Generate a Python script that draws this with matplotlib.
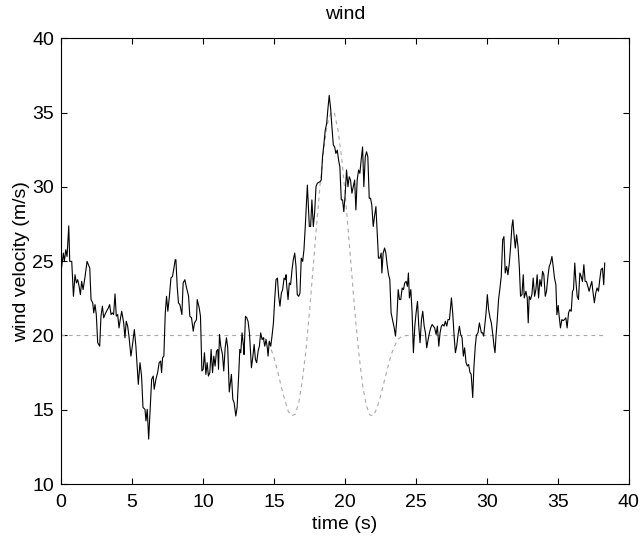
import matplotlib
matplotlib.use("Agg")
import matplotlib.pyplot as plt

plt.rcParams['font.family'] = ['Liberation Sans', 'DejaVu Sans']
plt.rcParams['font.size'] = 14

# turbulent wind speed (solid line)
wind_t = [
    0.00, 0.16, 0.23, 0.33, 0.42, 0.54, 0.61, 0.75, 0.87, 0.98, 1.08, 1.17, 1.27, 1.36, 1.45,
    1.55, 1.69, 1.83, 2.02, 2.11, 2.23, 2.30, 2.39, 2.48, 2.58, 2.72, 2.81, 2.91, 3.00, 3.14,
    3.33, 3.42, 3.52, 3.61, 3.70, 3.80, 3.89, 3.99, 4.08, 4.17, 4.27, 4.41, 4.50, 4.59, 4.69,
    4.78, 4.92, 5.02, 5.16, 5.27, 5.44, 5.56, 5.67, 5.77, 5.91, 5.98, 6.07, 6.17, 6.26, 6.38,
    6.49, 6.56, 6.68, 6.80, 6.91, 7.01, 7.08, 7.15, 7.24, 7.34, 7.43, 7.52, 7.62, 7.74, 7.85,
    7.95, 8.04, 8.09, 8.18, 8.27, 8.37, 8.51, 8.60, 8.72, 8.84, 8.93, 8.98, 9.07, 9.19, 9.31,
    9.40, 9.54, 9.59, 9.73, 9.82, 9.92, 10.01, 10.10, 10.20, 10.29, 10.38, 10.48, 10.57, 10.67,
    10.76, 10.85, 10.95, 11.04, 11.09, 11.16, 11.25, 11.37, 11.46, 11.56, 11.65, 11.74, 11.85,
    12.00, 12.10, 12.19, 12.31, 12.40, 12.52, 12.59, 12.66, 12.75, 12.85, 12.89, 12.99, 13.08,
    13.17, 13.27, 13.41, 13.50, 13.60, 13.69, 13.78, 13.88, 13.97, 14.06, 14.16, 14.25, 14.35,
    14.44, 14.53, 14.58, 14.67, 14.77, 14.86, 14.96, 15.05, 15.14, 15.24, 15.33, 15.42, 15.52,
    15.61, 15.71, 15.80, 15.85, 15.89, 15.99, 16.08, 16.17, 16.27, 16.36, 16.46, 16.55, 16.64,
    16.74, 16.83, 16.92, 17.02, 17.11, 17.21, 17.35, 17.49, 17.58, 17.67, 17.77, 17.86, 17.96,
    18.05, 18.24, 18.33, 18.42, 18.52, 18.61, 18.71, 18.80, 18.89, 18.99, 19.08, 19.18, 19.27,
    19.36, 19.46, 19.55, 19.64, 19.74, 19.83, 19.92, 20.02, 20.11, 20.21, 20.30, 20.39, 20.49,
    20.58, 20.68, 20.77, 20.86, 20.96, 21.05, 21.14, 21.24, 21.33, 21.43, 21.52, 21.61, 21.71,
    21.80, 21.89, 21.99, 22.08, 22.18, 22.27, 22.36, 22.46, 22.55, 22.60, 22.69, 22.79, 22.88,
    22.97, 23.07, 23.16, 23.25, 23.36, 23.47, 23.56, 23.65, 23.75, 23.84, 23.93, 24.03, 24.12,
    24.21, 24.31, 24.40, 24.47, 24.54, 24.64, 24.73, 24.82, 24.92, 25.01, 25.11, 25.20, 25.29,
    25.39, 25.48, 25.58, 25.67, 25.76, 25.86, 25.95, 26.04, 26.14, 26.23, 26.32, 26.42, 26.51,
    26.61, 26.70, 26.79, 26.89, 26.98, 27.07, 27.17, 27.26, 27.36, 27.45, 27.50, 27.59, 27.69,
    27.78, 27.87, 27.97, 28.06, 28.15, 28.25, 28.34, 28.43, 28.53, 28.62, 28.71, 28.81, 28.89,
    29.00, 29.08, 29.18, 29.26, 29.37, 29.47, 29.61, 29.70, 29.77, 29.84, 29.94, 30.03, 30.12,
    30.22, 30.31, 30.40, 30.50, 30.57, 30.64, 30.73, 30.82, 30.92, 31.01, 31.11, 31.20, 31.29,
    31.39, 31.48, 31.58, 31.67, 31.76, 31.83, 31.90, 32.00, 32.09, 32.19, 32.28, 32.37, 32.47,
    32.56, 32.63, 32.75, 32.84, 32.91, 32.98, 33.07, 33.17, 33.26, 33.36, 33.45, 33.54, 33.64,
    33.73, 33.83, 33.92, 34.01, 34.11, 34.20, 34.30, 34.39, 34.48, 34.58, 34.67, 34.76, 34.86,
    34.93, 35.02, 35.09, 35.18, 35.28, 35.37, 35.46, 35.56, 35.65, 35.75, 35.84, 35.94, 36.03,
    36.10, 36.19, 36.26, 36.36, 36.45, 36.55, 36.64, 36.73, 36.83, 36.92, 37.01, 37.11, 37.20,
    37.29, 37.39, 37.48, 37.57, 37.67, 37.76, 37.86, 37.95, 38.04, 38.14, 38.23, 38.30,
]
wind_v = [
    24.32, 25.55, 24.99, 25.77, 25.32, 27.38, 24.99, 24.99, 22.64, 24.09, 23.54, 23.76, 23.31, 22.75, 23.65,
    23.09, 23.98, 24.99, 24.54, 22.42, 22.19, 21.52, 22.08, 21.41, 19.51, 19.28, 21.30, 21.97, 21.19, 21.52,
    21.86, 22.08, 21.41, 21.52, 21.41, 22.80, 21.30, 21.41, 20.51, 21.07, 21.63, 20.85, 19.85, 20.96, 20.63,
    19.96, 18.61, 19.28, 20.40, 19.28, 16.71, 18.17, 17.27, 15.15, 15.03, 14.25, 15.03, 13.02, 14.81, 17.05,
    17.27, 16.38, 17.05, 17.50, 18.17, 18.28, 17.50, 18.50, 18.61, 21.52, 22.64, 21.63, 22.53, 23.87, 23.98,
    24.54, 25.10, 25.10, 23.31, 22.19, 22.08, 21.41, 23.54, 23.76, 23.20, 22.86, 22.64, 21.30, 21.19, 20.29,
    20.85, 21.07, 22.42, 21.86, 21.30, 17.61, 17.72, 18.84, 17.38, 18.17, 17.27, 17.50, 19.06, 17.50,
    18.61, 17.94, 18.95, 19.06, 17.72, 20.07, 19.28, 18.72, 17.61, 19.17, 19.85, 19.17, 16.20,
    17.38, 15.70, 15.48, 14.58, 15.15, 17.50, 19.06, 18.84, 20.18, 19.28, 18.72, 21.30, 21.19,
    20.96, 20.18, 17.83, 18.50, 19.40, 18.39, 18.17, 18.95, 19.28, 20.18, 19.73, 19.85, 19.28,
    19.73, 19.17, 18.61, 19.62, 19.28, 19.96, 20.85, 22.42, 23.76, 23.87, 22.64, 21.97, 22.86,
    23.09, 23.87, 23.76, 24.09, 23.42, 22.42, 23.54, 23.42, 24.43, 25.10, 25.55, 24.65, 22.75,
    22.64, 22.86, 25.21, 24.99, 25.77, 27.45, 30.13, 27.34, 27.34, 29.13, 27.34, 28.23, 30.02,
    30.25, 30.36, 30.47, 32.04, 32.93, 33.83, 34.27, 35.28, 36.17, 35.28, 34.05, 32.82, 32.70,
    32.26, 32.48, 31.81, 31.36, 29.13, 29.13, 28.34, 29.58, 31.14, 30.02, 30.69, 30.47, 29.58,
    30.02, 30.47, 28.46, 30.47, 31.14, 30.92, 31.81, 32.70, 30.02, 32.04, 32.37, 32.04, 29.24,
    29.24, 28.79, 27.34, 28.01, 28.68, 26.89, 25.21, 25.21, 25.55, 24.21, 25.55, 25.89, 25.55,
    24.77, 24.09, 23.76, 21.52, 21.00, 20.51, 19.96, 21.07, 23.09, 22.42, 22.42, 23.20, 23.09,
    23.54, 23.65, 23.31, 24.21, 22.53, 23.09, 21.52, 18.84, 20.63, 21.52, 22.30, 20.63, 19.51,
    21.07, 21.63, 20.63, 20.18, 19.17, 19.73, 20.18, 20.51, 20.74, 20.63, 20.51, 20.07, 20.63,
    19.28, 20.18, 20.63, 20.74, 20.63, 20.96, 20.63, 21.07, 21.07, 21.97, 22.53, 21.52, 19.96,
    18.84, 19.28, 20.07, 20.63, 20.07, 19.85, 18.61, 19.17, 18.17, 17.94, 18.05, 17.50, 17.40,
    15.82, 17.80, 19.28, 20.02, 20.18, 20.85, 20.18, 20.18, 19.96, 20.63, 21.52, 22.75, 21.74,
    21.19, 20.85, 20.18, 19.28, 18.84, 19.96, 21.07, 22.42, 23.20, 23.98, 26.44, 26.66, 24.21,
    24.65, 24.09, 24.88, 25.99, 27.34, 27.79, 26.89, 25.89, 26.78, 25.99, 24.65, 22.64, 22.75,
    24.09, 22.53, 22.98, 22.53, 20.85, 22.64, 22.42, 22.75, 23.87, 22.64, 23.09, 24.09, 22.53,
    23.76, 23.31, 24.32, 24.09, 22.64, 22.98, 23.98, 24.65, 24.88, 25.32, 24.65, 23.87, 23.42,
    21.40, 22.02, 21.30, 20.51, 21.07, 21.00, 21.07, 21.19, 20.51, 21.52, 21.74, 21.63, 22.98,
    23.09, 24.88, 23.76, 22.64, 22.42, 24.21, 23.98, 23.64, 24.77, 23.64, 23.64, 23.31, 22.98,
    23.31, 23.64, 22.87, 22.20, 22.87, 23.20, 22.98, 23.76, 24.43, 24.54, 23.42, 24.88,
]

# extreme gust profile (dashed line)
gust_t = [0, 14.0, 14.5, 14.75, 15.0, 15.25, 15.5, 15.75, 16.0, 16.25, 16.5, 16.75, 17.0,
          17.25, 17.5, 17.75, 18.0, 18.25, 18.5, 18.75, 19.0, 19.25, 19.5, 19.75, 20.0,
          20.25, 20.5, 20.75, 21.0, 21.25, 21.5, 21.75, 22.0, 22.25, 22.5, 22.75, 23.0,
          23.25, 23.5, 23.75, 24.0, 24.35, 38.3]
gust_v = [20, 20.0, 19.7, 19.2, 18.5, 17.6, 16.6, 15.7, 14.9, 14.6, 14.7, 15.5, 17.0,
          19.0, 21.6, 24.5, 27.4, 30.2, 32.5, 34.2, 35.0, 35.0, 33.9, 32.1, 29.7,
          26.8, 23.9, 21.0, 18.6, 16.6, 15.3, 14.65, 14.6, 15.1, 15.9, 16.85, 17.8,
          18.7, 19.3, 19.75, 19.95, 20, 20]

fig = plt.figure(figsize=(6.43, 5.42), dpi=100)
ax = fig.add_axes([0.095, 0.107, 0.883, 0.822])

ax.plot(gust_t, gust_v, color='#a8a8a8', lw=0.8, dashes=(3.5, 3.5))
ax.plot(wind_t, wind_v, color='black', lw=0.8)

ax.set_xlim(0, 40)
ax.set_ylim(10, 40)
ax.set_xticks(range(0, 41, 5))
ax.set_yticks(range(10, 41, 5))
ax.tick_params(direction='in', top=True, right=True, length=4.5, width=0.8)
ax.tick_params(axis='x', pad=7)
ax.tick_params(axis='y', pad=5)
for s in ax.spines.values():
    s.set_linewidth(0.8)

ax.set_title('wind', fontsize=14, pad=14)
ax.set_xlabel('time (s)')
ax.set_ylabel('wind velocity (m/s)')
ax.yaxis.set_label_coords(-0.055, 0.5)

fig.savefig('out.png', dpi=100)
